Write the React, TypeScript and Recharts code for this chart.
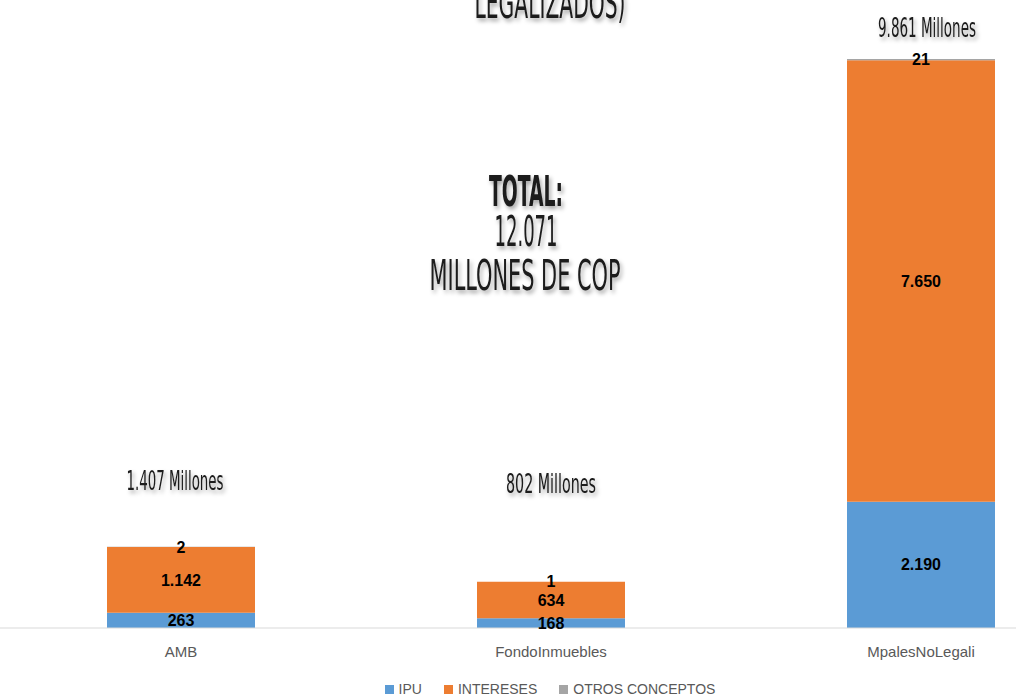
import React from 'react';
import { BarChart, Bar, XAxis, YAxis, Legend, LabelList } from 'recharts';

const categories = ['AMB', 'FondoInmuebles', 'MpalesNoLegali'];
const ipu = [263, 168, 2190];
const intereses = [1142, 634, 7650];
const otros = [2, 1, 21];
const totalLabels = ['1.407 Millones', '802 Millones', '9.861 Millones'];
const grandTotal = '12.071';

const colors = { ipu: '#5B9BD5', intereses: '#ED7D31', otros: '#A5A5A5' };

const data = categories.map((name, i) => ({
  name,
  ipu: ipu[i],
  intereses: intereses[i],
  otros: otros[i],
}));

const fmt = (v: any) => String(v).replace(/\B(?=(\d{3})+(?!\d))/g, '.');

const labelStyle = { fontFamily: 'Liberation Sans, Arial, sans-serif', fontSize: 16, fontWeight: 700, fill: '#000' };

const legendItems = [
  { label: 'IPU', color: colors.ipu },
  { label: 'INTERESES', color: colors.intereses },
  { label: 'OTROS CONCEPTOS', color: colors.otros },
];

const LegendContent = () => (
  <div style={{ display: 'flex', justifyContent: 'center', fontFamily: 'Liberation Sans, Arial, sans-serif', fontSize: 14, color: '#595959', paddingLeft: 20 }}>
    {legendItems.map((it) => (
      <span key={it.label} style={{ display: 'inline-flex', alignItems: 'center', marginRight: 22 }}>
        <span style={{ width: 9, height: 9, background: it.color, marginRight: 5, display: 'inline-block' }} />
        {it.label}
      </span>
    ))}
  </div>
);

// condensed display text (Agency-style), squeezed to the measured width
const Condensed = ({ x, y, w, size, bold, children }: any) => (
  <text
    x={x}
    y={y}
    textAnchor="middle"
    textLength={w}
    lengthAdjust="spacingAndGlyphs"
    fontFamily="DejaVu Sans Condensed, DejaVu Sans, sans-serif"
    fontSize={size}
    fontWeight={bold ? 700 : 400}
    fill="#1a1a1a"
    filter="url(#shadow)"
  >
    {children}
  </text>
);

const annotations = [
  { x: 175, y: 490, w: 97 },
  { x: 551, y: 493, w: 90 },
  { x: 927, y: 37, w: 98 },
];

const App = () => {
  return (
    <div style={{ position: 'absolute', left: 0, top: 0, width: 1016, height: 695, overflow: 'hidden', background: '#fff' }}>
      <div style={{ position: 'absolute', left: -4, top: 0 }}>
        <BarChart width={1110} height={695} data={data} margin={{ top: 51, right: 0, bottom: 0, left: 0 }} barCategoryGap="30%">
          <XAxis
            dataKey="name"
            height={49}
            tickLine={false}
            axisLine={{ stroke: '#D9D9D9' }}
            tick={{ fill: '#595959', fontSize: 15, fontFamily: 'Liberation Sans, Arial, sans-serif' }}
            tickMargin={12}
          />
          <YAxis hide domain={[0, 10000]} />
          <Legend verticalAlign="bottom" height={18} content={<LegendContent />} wrapperStyle={{ bottom: -4 }} />
          <Bar dataKey="ipu" stackId="a" fill={colors.ipu} isAnimationActive={false}>
            <LabelList dataKey="ipu" position="center" formatter={fmt} style={labelStyle} />
          </Bar>
          <Bar dataKey="intereses" stackId="a" fill={colors.intereses} isAnimationActive={false}>
            <LabelList dataKey="intereses" position="center" formatter={fmt} style={labelStyle} />
          </Bar>
          <Bar dataKey="otros" stackId="a" fill={colors.otros} isAnimationActive={false}>
            <LabelList dataKey="otros" position="center" formatter={fmt} style={labelStyle} />
          </Bar>
        </BarChart>
      </div>
      <svg width={1016} height={695} style={{ position: 'absolute', left: 0, top: 0, pointerEvents: 'none' }}>
        <defs>
          <filter id="shadow" x="-20%" y="-20%" width="140%" height="160%">
            <feDropShadow dx="2" dy="3" stdDeviation="2" floodColor="#000" floodOpacity="0.35" />
          </filter>
        </defs>
        <Condensed x={550} y={18} w={151} size={42}>LEGALIZADOS)</Condensed>
        {annotations.map((a, i) => (
          <Condensed key={i} x={a.x} y={a.y} w={a.w} size={26}>{totalLabels[i]}</Condensed>
        ))}
        <Condensed x={526} y={206} w={74} size={42} bold>TOTAL:</Condensed>
        <Condensed x={526} y={246} w={63} size={42}>{grandTotal}</Condensed>
        <Condensed x={525} y={290} w={191} size={42}>MILLONES DE COP</Condensed>
      </svg>
    </div>
  );
};

export default App;
